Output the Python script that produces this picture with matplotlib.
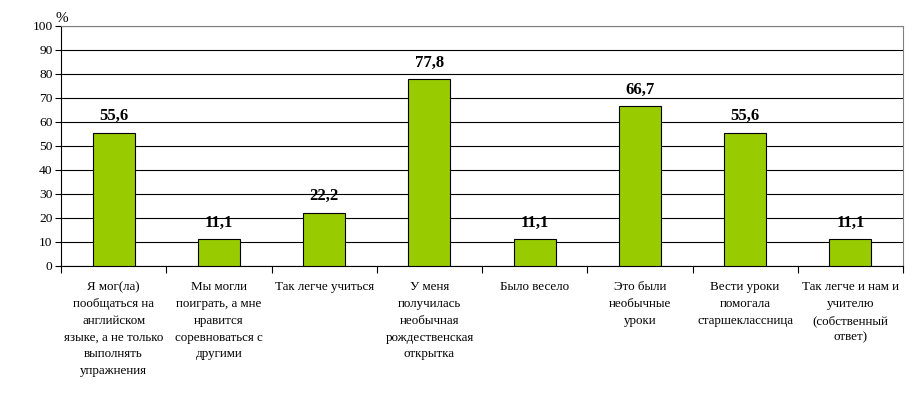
import matplotlib.pyplot as plt
import numpy as np

# подписи категорий и значения (%)
categories = [
    'Я мог(ла)\nпообщаться на\nанглийском\nязыке, а не только\nвыполнять\nупражнения',
    'Мы могли\nпоиграть, а мне\nнравится\nсоревноваться с\nдругими',
    'Так легче учиться',
    'У меня\nполучилась\nнеобычная\nрождественская\nоткрытка',
    'Было весело',
    'Это были\nнеобычные\nуроки',
    'Вести уроки\nпомогала\nстаршеклассница',
    'Так легче и нам и\nучителю\n(собственный\nответ)',
]
values = [55.6, 11.1, 22.2, 77.8, 11.1, 66.7, 55.6, 11.1]
y_ticks = list(range(0, 101, 10))

plt.rcParams['font.family'] = ['Liberation Serif', 'DejaVu Serif']

fig = plt.figure(figsize=(9.18, 3.96), dpi=100)
ax = fig.add_axes([61 / 918, 1 - 266 / 396, 842 / 918, 240 / 396])

x = np.arange(len(values))
ax.bar(x, values, width=0.4, color='#99cc00', edgecolor='black', linewidth=0.8, zorder=3)

for xi, v in zip(x, values):
    ax.text(xi, v + 3.5, f'{v:.1f}'.replace('.', ','), ha='center', va='bottom',
            fontsize=12, fontweight='bold')

ax.set_xlim(-0.5, len(values) - 0.5)
ax.set_ylim(0, 100)
ax.set_yticks(y_ticks)
ax.yaxis.grid(True, color='black', linewidth=0.8, zorder=0)
ax.tick_params(axis='y', labelsize=9.7, length=4, direction='out', pad=2)

# деления между категориями, подписи по центру
ax.set_xticks(np.arange(-0.5, len(values)), minor=False)
ax.set_xticklabels([])
ax.set_xticks(x, minor=True)
ax.set_xticklabels(categories, minor=True, fontsize=9.4, linespacing=1.53, va='top')
ax.tick_params(axis='x', which='major', length=5, direction='out')
ax.tick_params(axis='x', which='minor', length=0, pad=11)

for side in ['top', 'right']:
    ax.spines[side].set_color('#808080')
ax.spines['left'].set_color('black')
ax.spines['bottom'].set_color('black')

fig.text(55 / 918, 1 - 19 / 396, '%', fontsize=11, ha='left', va='center')

fig.savefig('out.png', dpi=100)
